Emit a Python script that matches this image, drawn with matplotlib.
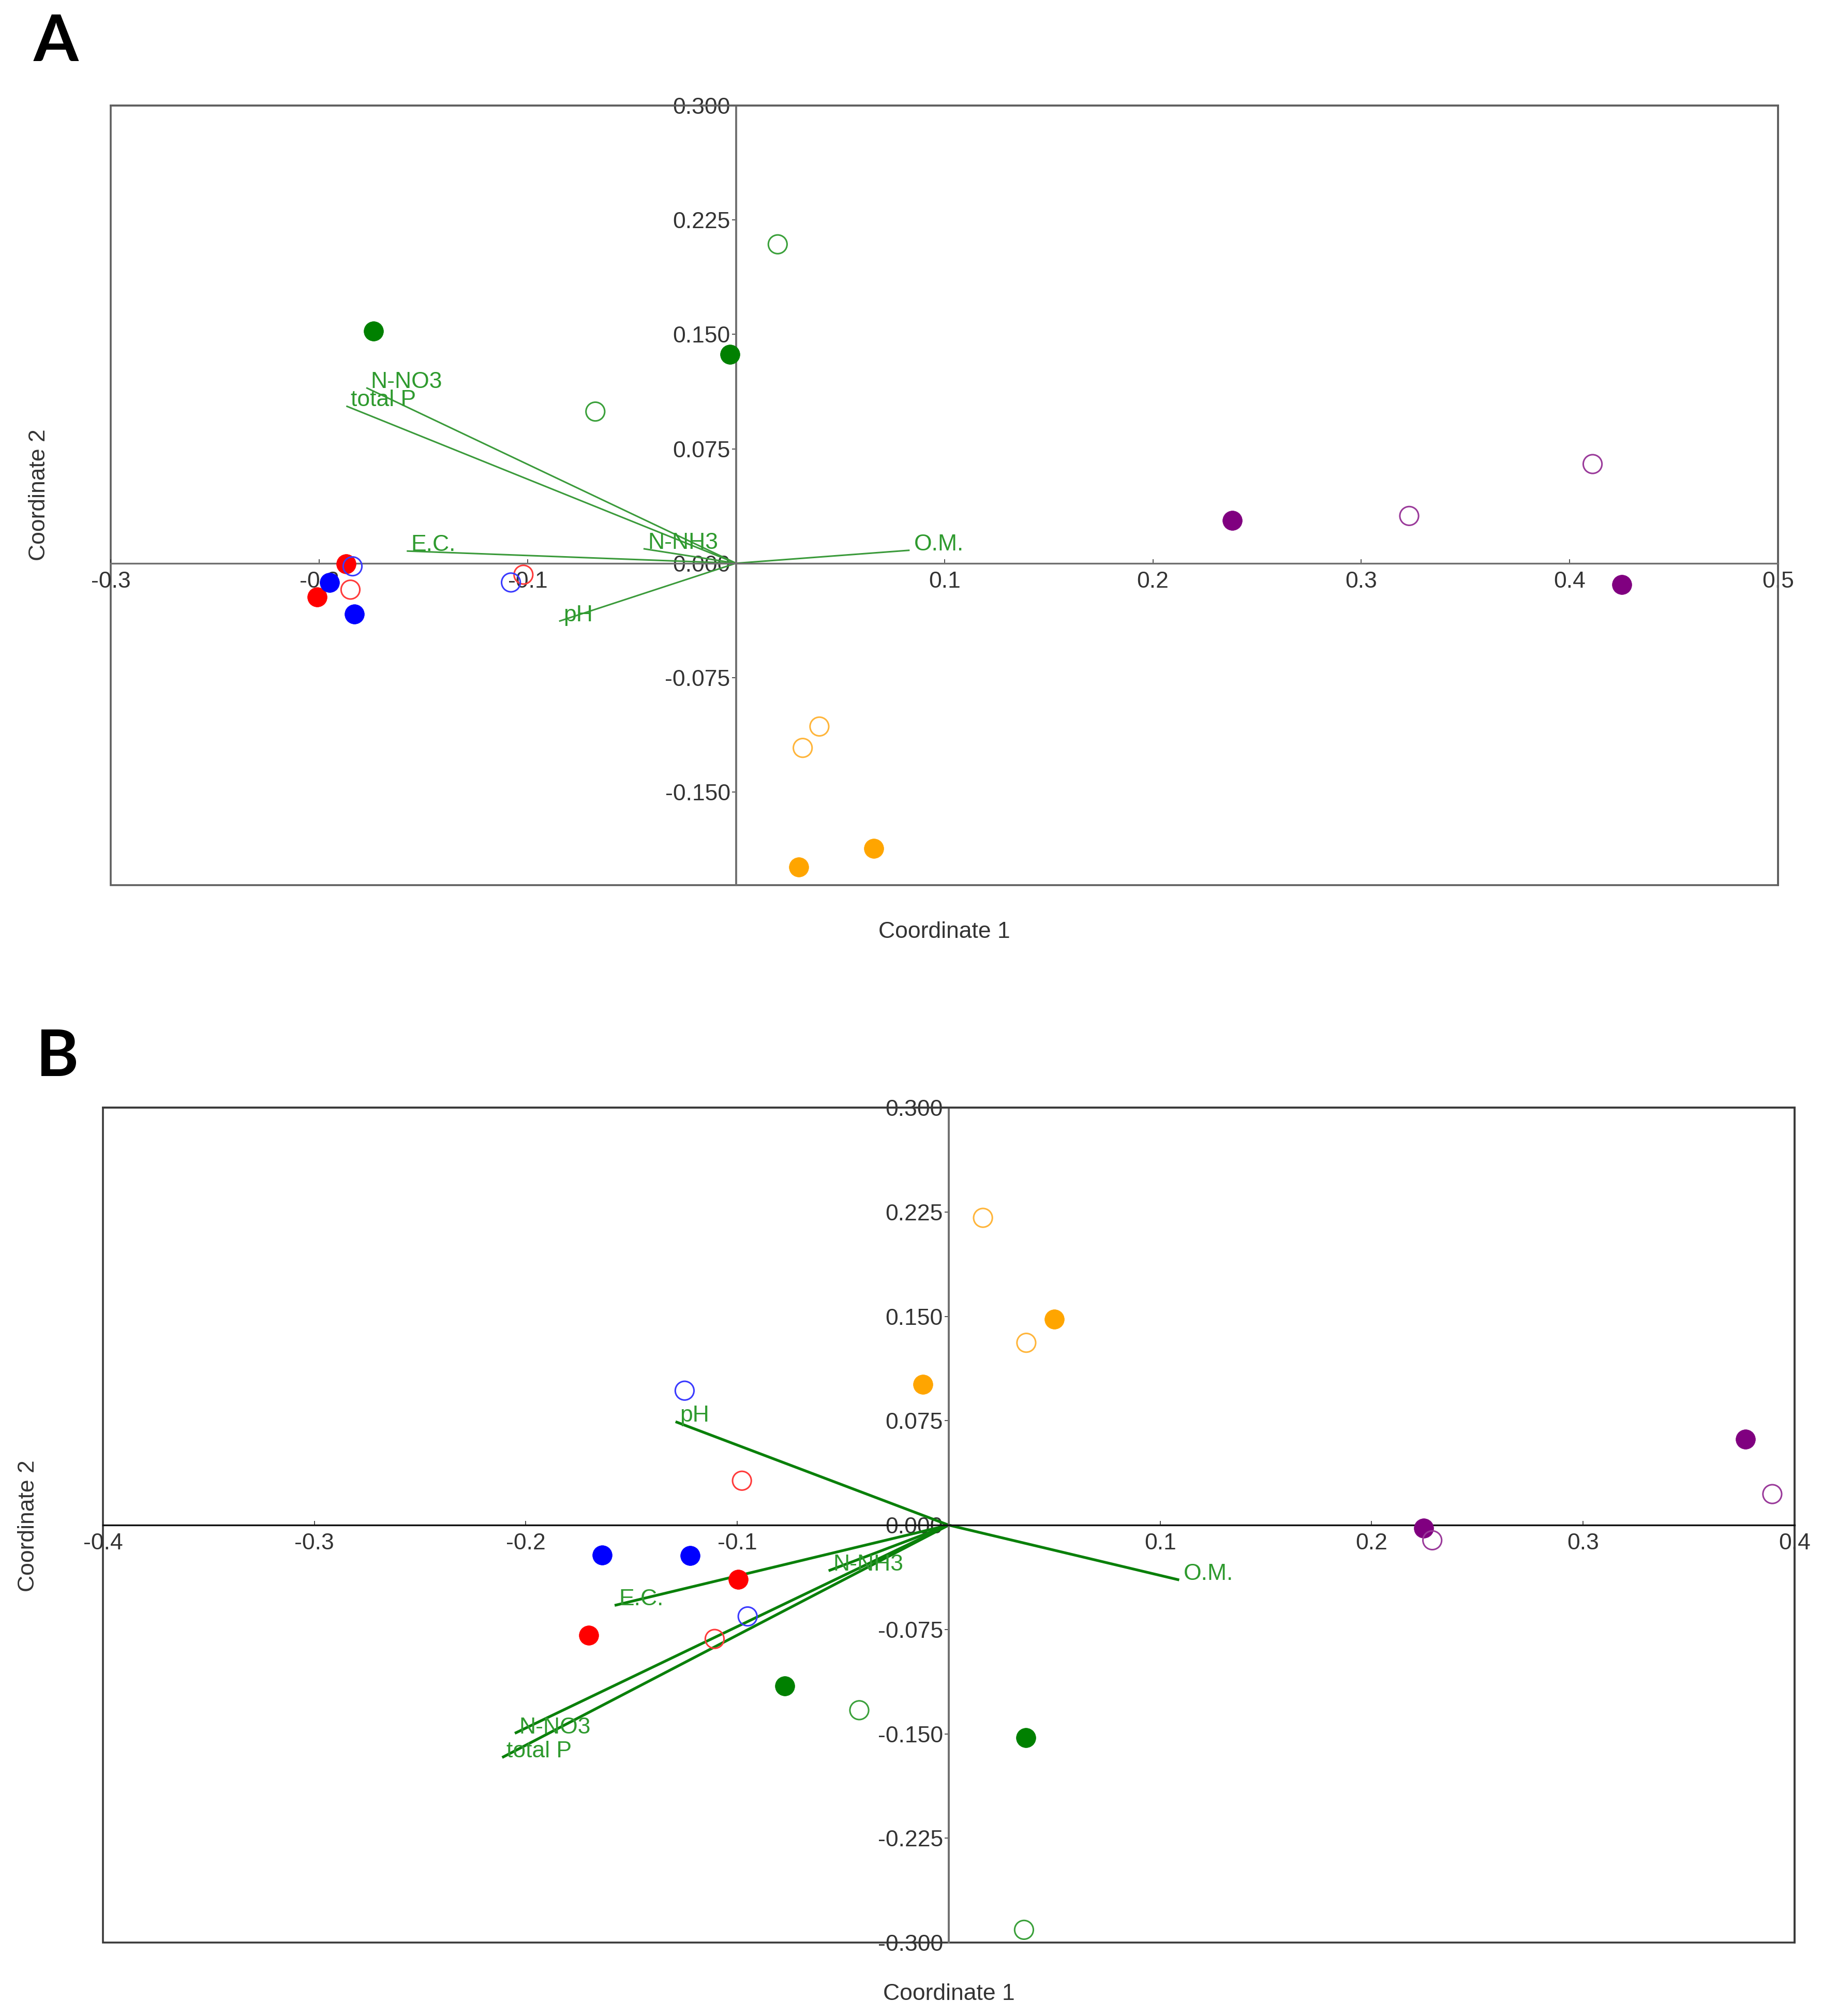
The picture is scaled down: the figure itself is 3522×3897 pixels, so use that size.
import matplotlib.pyplot as plt
import numpy as np

plt.rcParams['font.family'] = ['Liberation Sans', 'DejaVu Sans']
plt.rcParams['axes.unicode_minus'] = False

# ---- panel A : sample scores ----
a_group = ['green', 'green', 'green', 'green',
           'purple', 'purple', 'purple', 'purple',
           'orange', 'orange', 'orange', 'orange',
           'red', 'red', 'red', 'red',
           'blue', 'blue', 'blue', 'blue']
a_filled = [False, True, True, False,
            False, False, True, True,
            False, False, True, True,
            True, False, True, False,
            False, True, True, False]
a_x = [0.020, -0.174, -0.003, -0.0675,
       0.411, 0.323, 0.238, 0.425,
       0.040, 0.032, 0.066, 0.030,
       -0.187, -0.185, -0.201, -0.102,
       -0.184, -0.195, -0.183, -0.108]
a_y = [0.209, 0.152, 0.137, 0.0994,
       0.065, 0.031, 0.028, -0.014,
       -0.107, -0.121, -0.187, -0.199,
       -0.0003, -0.0173, -0.022, -0.0075,
       -0.002, -0.0126, -0.0333, -0.0126]

# panel A : variable vectors
a_vars = ['N-NO3', 'total P', 'E.C.', 'N-NH3', 'pH', 'O.M.']
a_vx = [-0.1774, -0.187, -0.158, -0.0444, -0.0849, 0.0833]
a_vy = [0.115, 0.103, 0.008, 0.0095, -0.038, 0.0085]

# ---- panel B : sample scores ----
b_group = ['orange', 'orange', 'orange', 'orange',
           'blue', 'blue', 'blue', 'blue',
           'red', 'red', 'red', 'red',
           'green', 'green', 'green', 'green',
           'purple', 'purple', 'purple', 'purple']
b_filled = [False, True, False, True,
            False, True, True, False,
            False, True, False, True,
            True, False, True, False,
            True, False, True, False]
b_x = [0.0162, 0.050, 0.0367, -0.0122,
       -0.1249, -0.164, -0.1224, -0.0951,
       -0.0978, -0.0995, -0.1107, -0.1702,
       -0.0776, -0.0423, 0.0365, 0.0356,
       0.3768, 0.3895, 0.2246, 0.2287]
b_y = [0.2208, 0.1478, 0.131, 0.101,
       0.0966, -0.0214, -0.0219, -0.0656,
       0.0319, -0.0389, -0.0818, -0.0792,
       -0.1155, -0.133, -0.1526, -0.2908,
       0.0617, 0.0223, -0.0022, -0.0109]

# panel B : variable vectors
b_vars = ['pH', 'E.C.', 'N-NH3', 'N-NO3', 'total P', 'O.M.']
b_vx = [-0.1292, -0.158, -0.0568, -0.2052, -0.2112, 0.109]
b_vy = [0.0743, -0.0577, -0.0328, -0.1496, -0.167, -0.0394]

# axis ticks
a_xticks = [-0.3, -0.2, -0.1, 0.1, 0.2, 0.3, 0.4, 0.5]
a_yticks = [0.300, 0.225, 0.150, 0.075, 0.000, -0.075, -0.150]
b_xticks = [-0.4, -0.3, -0.2, -0.1, 0.1, 0.2, 0.3, 0.4]
b_yticks = [0.300, 0.225, 0.150, 0.075, 0.000, -0.075, -0.150, -0.225, -0.300]

colors = {'green': '#008000', 'purple': '#800080', 'orange': '#ffa500',
          'red': '#ff0000', 'blue': '#0000ff'}
open_colors = {'green': '#3aa03a', 'purple': '#9a3a9a', 'orange': '#ffb53a',
               'red': '#ff3a3a', 'blue': '#3a3aff'}
text_col = '#333333'
label_green = '#2e9a2e'


def draw_panel(ax, xs, ys, groups, filled, vx, vy, vnames, xlim, ylim,
               xticks, yticks, vec_col, vec_lw, frame_col, hzero_col):
    ax.set_xlim(*xlim)
    ax.set_ylim(*ylim)

    # spines through the origin, outer frame drawn separately
    ax.spines['left'].set_position(('data', 0))
    ax.spines['bottom'].set_position(('data', 0))
    ax.spines['left'].set_color('#707070')
    ax.spines['bottom'].set_color(hzero_col)
    ax.spines['left'].set_linewidth(2.8)
    ax.spines['bottom'].set_linewidth(2.4)
    for s in ['top', 'right']:
        ax.spines[s].set_color(frame_col)
        ax.spines[s].set_linewidth(2.6)
    ax.add_patch(plt.Rectangle((0, 0), 1, 1, transform=ax.transAxes,
                               fill=False, edgecolor=frame_col, lw=2.6,
                               clip_on=False, zorder=0.5))

    ax.set_xticks(xticks)
    ax.set_xticklabels(['%.1f' % t for t in xticks])
    ax.set_yticks(yticks)
    ax.set_yticklabels(['%.3f' % t for t in yticks])
    ax.tick_params(axis='x', direction='in', length=6, width=1.2,
                   colors=text_col, labelsize=32, pad=11)
    ax.tick_params(axis='y', direction='out', length=6, width=1.2,
                   colors=text_col, labelsize=32, pad=2)

    # vectors
    for x, y, name in zip(vx, vy, vnames):
        ax.plot([0, x], [0, y], color=vec_col, lw=vec_lw, zorder=2,
                solid_capstyle='butt')
        ax.annotate(name, (x, y), xytext=(6, 0), textcoords='offset points',
                    color=label_green, fontsize=32, ha='left', va='baseline',
                    zorder=3)

    # sample points
    for x, y, g, f in zip(xs, ys, groups, filled):
        if f:
            ax.scatter(x, y, s=740, color=colors[g], edgecolors=colors[g],
                       linewidths=0.5, zorder=4)
        else:
            ax.scatter(x, y, s=680, facecolors='none',
                       edgecolors=open_colors[g], linewidths=2.2, zorder=4)


fig = plt.figure(figsize=(35.22, 38.97), dpi=100)

ax_a = fig.add_axes([0.0608, 0.5609, 0.9151, 0.3868])
draw_panel(ax_a, a_x, a_y, a_group, a_filled, a_vx, a_vy, a_vars,
           (-0.3, 0.5), (-0.211, 0.300), a_xticks, a_yticks,
           '#3a9a3a', 2.2, '#606060', '#707070')

ax_b = fig.add_axes([0.0565, 0.0364, 0.9284, 0.4142])
draw_panel(ax_b, b_x, b_y, b_group, b_filled, b_vx, b_vy, b_vars,
           (-0.4, 0.4), (-0.300, 0.300), b_xticks, b_yticks,
           '#0a800a', 3.8, '#3a3a3a', '#111111')

# axis titles
fig.text(0.5182, 0.5378, 'Coordinate 1', ha='center', va='center',
         fontsize=32, color=text_col)
fig.text(0.0213, 0.7545, 'Coordinate 2', ha='center', va='center',
         rotation=90, fontsize=32, color=text_col)
fig.text(0.5208, 0.0108, 'Coordinate 1', ha='center', va='center',
         fontsize=32, color=text_col)
fig.text(0.0156, 0.2430, 'Coordinate 2', ha='center', va='center',
         rotation=90, fontsize=32, color=text_col)

# panel letters
fig.text(0.0185, 0.9935, 'A', ha='left', va='top', fontsize=90,
         fontweight='bold', family=['Lato', 'DejaVu Sans'])
fig.text(0.0199, 0.4900, 'B', ha='left', va='top', fontsize=90,
         fontweight='bold', family=['Lato', 'DejaVu Sans'])

fig.savefig('out.png', dpi=100)
